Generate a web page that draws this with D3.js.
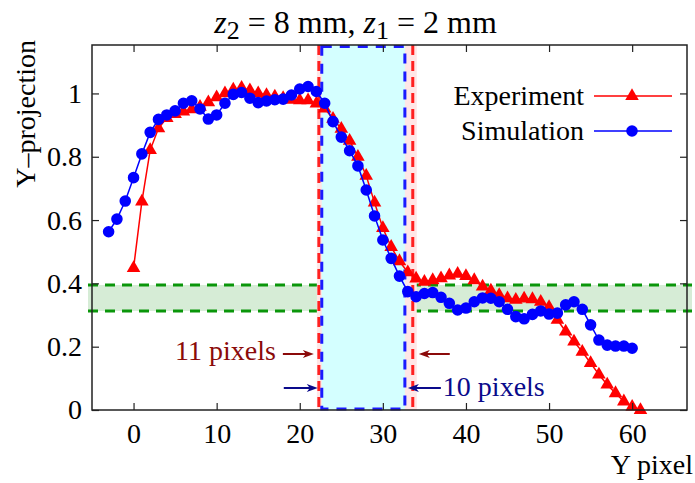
<!DOCTYPE html>
<html>
<head>
<meta charset="utf-8">
<script src="https://cdn.jsdelivr.net/npm/d3@7"></script>
<style>
  body { margin: 0; background: #fff; }
  svg text { font-family: "Liberation Serif", "Times New Roman", Times, "DejaVu Serif", serif !important; }
</style>
</head>
<body>
<script>
// Data
const expX = [0, 1, 2, 3, 4, 5, 6, 7, 8, 9, 10, 11, 12, 13, 14, 15, 16, 17, 18, 19, 20,
    21, 22, 23, 24, 25, 26, 27, 28, 29, 30, 31, 32, 33, 34, 35, 36, 37, 38, 39, 40,
    41, 42, 43, 44, 45, 46, 47, 48, 49, 50, 51, 52, 53, 54, 55, 56, 57, 58, 59, 60, 61]
const expY = [0.448, 0.658, 0.821, 0.89, 0.922, 0.935, 0.943, 0.95, 0.958, 0.972, 0.988,
    1.0, 1.012, 1.018, 1.01, 1.0, 0.995, 0.99, 0.985, 0.98, 0.978,
    0.978, 0.968, 0.952, 0.92, 0.888, 0.85, 0.8, 0.74, 0.655, 0.575,
    0.515, 0.47, 0.435, 0.415, 0.405, 0.41, 0.416, 0.425, 0.43, 0.423,
    0.41, 0.39, 0.377, 0.363, 0.353, 0.348, 0.352, 0.35, 0.342, 0.325,
    0.285, 0.248, 0.216, 0.184, 0.148, 0.112, 0.08, 0.053, 0.027, 0.01, 0.0]

const simX = [-3, -2, -1, 0, 1, 2, 3, 4, 5, 6, 7, 8, 9, 10, 11, 12, 13, 14, 15, 16, 17,
    18, 19, 20, 21, 22, 23, 24, 25, 26, 27, 28, 29, 30, 31, 32, 33, 34, 35, 36, 37,
    38, 39, 40, 41, 42, 43, 44, 45, 46, 47, 48, 49, 50, 51, 52, 53, 54, 55, 56, 57,
    58, 59, 60]
const simY = [0.563, 0.603, 0.66, 0.734, 0.809, 0.877, 0.918, 0.932, 0.945, 0.969, 0.977,
    0.951, 0.919, 0.932, 0.969, 0.997, 1.003, 0.985, 0.971, 0.976, 0.98,
    0.982, 0.995, 1.014, 1.022, 1.006, 0.969, 0.911, 0.862, 0.819, 0.771,
    0.695, 0.613, 0.537, 0.479, 0.423, 0.374, 0.358, 0.368, 0.371, 0.356,
    0.337, 0.316, 0.322, 0.342, 0.354, 0.353, 0.342, 0.318, 0.295, 0.288,
    0.302, 0.313, 0.303, 0.306, 0.332, 0.342, 0.318, 0.269, 0.221, 0.205,
    0.202, 0.202, 0.195]

const xTicks = [0, 10, 20, 30, 40, 50, 60]
const yTicks = [0, 0.2, 0.4, 0.6, 0.8, 1]
const yTickLabels = ["0", "0.2", "0.4", "0.6", "0.8", "1"]

// shaded regions: experiment width (11 px), simulation width (10 px), plateau band
const expEdges = [22.3, 33.6]
const simEdges = [22.65, 32.65]
const bandY = [0.313, 0.395]

const seriesNames = ["Experiment", "Simulation"]

const W = 695, H = 483
const margin = { top: 45, right: 8, bottom: 73, left: 92 },
    width = W - margin.left - margin.right,
    height = H - margin.top - margin.bottom

const x = d3.scaleLinear().domain([-5, 66.6]).range([0, width])
const y = d3.scaleLinear().domain([0, 1.153]).range([height, 0])

const svg = d3.select("body").append("svg")
    .attr("width", W)
    .attr("height", H)

const g = svg.append("g")
    .attr("transform", "translate(" + margin.left + "," + margin.top + ")")

// green band (reaches a little past the frame)
g.append("rect")
    .attr("x", -4).attr("width", width + 9)
    .attr("y", y(bandY[1])).attr("height", y(bandY[0]) - y(bandY[1]))
    .attr("fill", "#d6ecd6")
bandY.forEach(v => {
    g.append("line")
        .attr("x1", -4).attr("x2", width + 5)
        .attr("y1", y(v)).attr("y2", y(v))
        .attr("stroke", "#0a960a").attr("stroke-width", 3)
        .attr("stroke-dasharray", "10,7")
})

// pink strip behind experiment edges, cyan for simulation
g.append("rect")
    .attr("x", x(expEdges[0]) - 2).attr("width", x(expEdges[1]) - x(expEdges[0]) + 6)
    .attr("y", 0).attr("height", height)
    .attr("fill", "#ffe6e6")
g.append("rect")
    .attr("x", x(simEdges[0])).attr("width", x(simEdges[1]) - x(simEdges[0]))
    .attr("y", 0).attr("height", height)
    .attr("fill", "#d4ffff")

expEdges.forEach(v => {
    g.append("line")
        .attr("x1", x(v)).attr("x2", x(v))
        .attr("y1", 0).attr("y2", height)
        .attr("stroke", "#ff2020").attr("stroke-width", 3)
        .attr("stroke-dasharray", "10,6")
})
g.append("rect")
    .attr("x", x(simEdges[0])).attr("width", x(simEdges[1]) - x(simEdges[0]))
    .attr("y", 1.5).attr("height", height - 2.5)
    .attr("fill", "none")
    .attr("stroke", "#1a1aff").attr("stroke-width", 3)
    .attr("stroke-dasharray", "10,8")

// annotation arrows
function arrow(x1, x2, yy, color) {
    let dir = x2 > x1 ? 1 : -1
    g.append("line")
        .attr("x1", x1).attr("x2", x2 - dir * 6)
        .attr("y1", yy).attr("y2", yy)
        .attr("stroke", color).attr("stroke-width", 2)
    g.append("path")
        .attr("d", `M${x2},${yy} L${x2 - dir * 11},${yy - 4} L${x2 - dir * 8},${yy} L${x2 - dir * 11},${yy + 4} Z`)
        .attr("fill", color)
}
const darkRed = "#8b0a0a", darkBlue = "#0a0a8b"
arrow(x(expEdges[0]) - 36, x(expEdges[0]) - 5, 309, darkRed)
arrow(x(expEdges[1]) + 37, x(expEdges[1]) + 6, 309, darkRed)
arrow(x(simEdges[0]) - 38, x(simEdges[0]) - 4, 343, darkBlue)
arrow(x(simEdges[1]) + 36, x(simEdges[1]) + 3, 343, darkBlue)

g.append("text")
    .attr("x", x(expEdges[0]) - 43).attr("y", 315)
    .attr("text-anchor", "end")
    .attr("font-size", 28)
    .attr("fill", darkRed)
    .text("11 pixels")
g.append("text")
    .attr("x", x(simEdges[1]) + 38).attr("y", 351)
    .attr("font-size", 28)
    .attr("fill", darkBlue)
    .text("10 pixels")

// data
const expData = expX.map((d, i) => ({ x: d, y: expY[i] }))
const simData = simX.map((d, i) => ({ x: d, y: simY[i] }))
const line = d3.line().x(d => x(d.x)).y(d => y(d.y))
const tri = d3.symbol().type(d3.symbolTriangle).size(80)
const dot = d3.symbol().type(d3.symbolCircle).size(105)

g.append("path").datum(expData)
    .attr("d", line).attr("fill", "none")
    .attr("stroke", "#ff0000").attr("stroke-width", 1.5)
g.selectAll(".tri").data(expData).enter().append("path")
    .attr("class", "tri")
    .attr("transform", d => `translate(${x(d.x)},${y(d.y)})`)
    .attr("d", tri).attr("fill", "#ff0000")

g.append("path").datum(simData)
    .attr("d", line).attr("fill", "none")
    .attr("stroke", "#0000ff").attr("stroke-width", 1.5)
g.selectAll(".dot").data(simData).enter().append("path")
    .attr("class", "dot")
    .attr("transform", d => `translate(${x(d.x)},${y(d.y)})`)
    .attr("d", dot).attr("fill", "#0000ff")

// frame and ticks (mirrored, pointing inward)
g.append("rect")
    .attr("width", width).attr("height", height)
    .attr("fill", "none").attr("stroke", "#222").attr("stroke-width", 1.5)

g.append("g")
    .attr("transform", "translate(0," + height + ")")
    .call(d3.axisBottom(x).tickValues(xTicks).tickSize(-7).tickPadding(13).tickFormat(d3.format("d")))
g.append("g")
    .call(d3.axisTop(x).tickValues(xTicks).tickSize(-7).tickFormat(""))
g.append("g")
    .call(d3.axisLeft(y).tickValues(yTicks).tickSize(-7).tickPadding(10)
        .tickFormat((d, i) => yTickLabels[i]))
g.append("g")
    .attr("transform", "translate(" + width + ",0)")
    .call(d3.axisRight(y).tickValues(yTicks).tickSize(-7).tickFormat(""))

g.selectAll(".domain").remove()
g.selectAll(".tick line").attr("stroke", "#222").attr("stroke-width", 1.2)
g.selectAll(".tick text")
    .attr("font-size", 28)
    .attr("fill", "#000")

// legend
const legend = g.append("g")
const legY = [51, 86]
seriesNames.forEach((name, i) => {
    let color = i === 0 ? "#ff0000" : "#0000ff"
    legend.append("text")
        .attr("x", 492).attr("y", legY[i] + 9)
        .attr("text-anchor", "end")
        .attr("font-size", 28)
        .text(name)
    legend.append("line")
        .attr("x1", 502).attr("x2", 580)
        .attr("y1", legY[i]).attr("y2", legY[i])
        .attr("stroke", color).attr("stroke-width", 1.5)
    legend.append("path")
        .attr("transform", `translate(540,${legY[i]})`)
        .attr("d", i === 0 ? tri : dot)
        .attr("fill", color)
})

// title and axis labels
const title = svg.append("text")
    .attr("x", 355.5).attr("y", 33)
    .attr("text-anchor", "middle")
    .attr("font-size", 32)
title.append("tspan").attr("font-style", "italic").text("z")
title.append("tspan").attr("font-size", 26).attr("dy", 6).text("2")
title.append("tspan").attr("dy", -6).text(" = 8 mm, ")
title.append("tspan").attr("font-style", "italic").text("z")
title.append("tspan").attr("font-size", 26).attr("dy", 6).text("1")
title.append("tspan").attr("dy", -6).text(" = 2 mm")

svg.append("text")
    .attr("transform", "translate(35,40) rotate(-90)")
    .attr("text-anchor", "end")
    .attr("font-size", 28)
    .text("Y\u2013projection")

svg.append("text")
    .attr("x", 693).attr("y", 474)
    .attr("text-anchor", "end")
    .attr("font-size", 28)
    .text("Y pixel")
</script>
</body>
</html>
